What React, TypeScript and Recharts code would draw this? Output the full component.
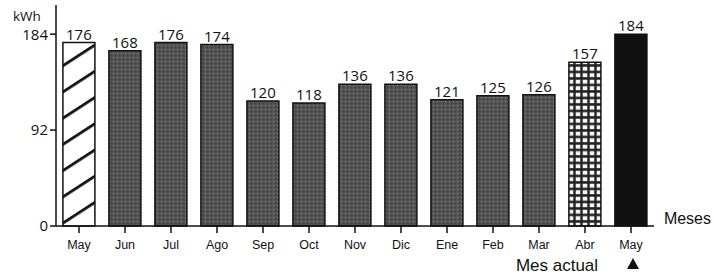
import { BarChart, Bar, XAxis, YAxis, Cell, LabelList } from "recharts";

const months = ["May", "Jun", "Jul", "Ago", "Sep", "Oct", "Nov", "Dic", "Ene", "Feb", "Mar", "Abr", "May"];
const kwh = [176, 168, 176, 174, 120, 118, 136, 136, 121, 125, 126, 157, 184];
const yTicks = [0, 92, 184];

const data = months.map((m, i) => ({ key: `${m}-${i}`, month: m, kwh: kwh[i] }));

const fillFor = (i: number) => {
  if (i === 0) return "url(#hatch)";
  if (i === months.length - 2) return "url(#grid)";
  if (i === months.length - 1) return "#111";
  return "url(#halftone)";
};

const tickFont = "'Liberation Sans Narrow', 'Liberation Sans', Arial, sans-serif";
const labelFont = "'Open Sans', 'Liberation Sans', sans-serif";

function MonthTick(props: any) {
  const { x, y, payload } = props;
  return (
    <text x={x} y={y + 14} textAnchor="middle" fontSize={12.5} fontFamily={tickFont} fill="#111">
      {months[payload.index] ?? payload.value}
    </text>
  );
}

export default function App() {
  return (
    <div style={{ position: "absolute", left: 0, top: 0, width: 714, height: 274, background: "#fff" }}>
      <BarChart
        width={714}
        height={274}
        data={data}
        margin={{ top: 5, right: 60, bottom: 0, left: 0 }}
        barCategoryGap="15%"
      >
        <defs>
          <pattern id="hatch" width="22" height="22" patternUnits="userSpaceOnUse" patternTransform="rotate(-33)">
            <rect width="22" height="22" fill="#fff" />
            <rect y="0" width="22" height="2.8" fill="#111" />
          </pattern>
          <pattern id="halftone" width="4" height="4" patternUnits="userSpaceOnUse">
            <rect width="4" height="4" fill="#525252" />
            <rect x="1" y="1" width="1" height="1" fill="#8c8c8c" />
            <rect x="3" y="3" width="1" height="1" fill="#3a3a3a" />
          </pattern>
          <pattern id="grid" width="7" height="6.5" patternUnits="userSpaceOnUse">
            <rect width="7" height="6.5" fill="#222" />
            <rect x="1.7" y="1.7" width="4.6" height="4" fill="#f4f4f4" />
          </pattern>
        </defs>
        <XAxis
          dataKey="key"
          stroke="#111"
          strokeWidth={1.5}
          tickSize={7}
          tickLine={{ stroke: "#111", strokeWidth: 1.5 }}
          tick={<MonthTick />}
          height={48}
          interval={0}
        />
        <YAxis
          domain={[0, 212]}
          ticks={yTicks}
          stroke="#111"
          strokeWidth={1.5}
          width={56}
          tickSize={6}
          tick={{ fill: "#111", fontSize: 15, fontFamily: labelFont }}
        />
        <Bar dataKey="kwh" isAnimationActive={false} stroke="#111" strokeWidth={1.5}>
          {data.map((d, i) => (
            <Cell key={d.key} fill={fillFor(i)} />
          ))}
          <LabelList dataKey="kwh" position="top" offset={3} fill="#111" fontSize={15} fontFamily={labelFont} />
        </Bar>
      </BarChart>
      <svg width={714} height={274} style={{ position: "absolute", left: 0, top: 0, pointerEvents: "none" }}>
        <text x={13} y={21} fontSize={13.5} fontFamily={labelFont} fill="#111">kWh</text>
        <text x={711} y={224} textAnchor="end" fontSize={16} fontFamily={tickFont} fill="#111">Meses</text>
        <text x={557} y={271} textAnchor="middle" fontSize={17} fontFamily={tickFont} fill="#111">Mes actual</text>
        <polygon points="633,258 639,269 627,269" fill="#111" />
      </svg>
    </div>
  );
}
